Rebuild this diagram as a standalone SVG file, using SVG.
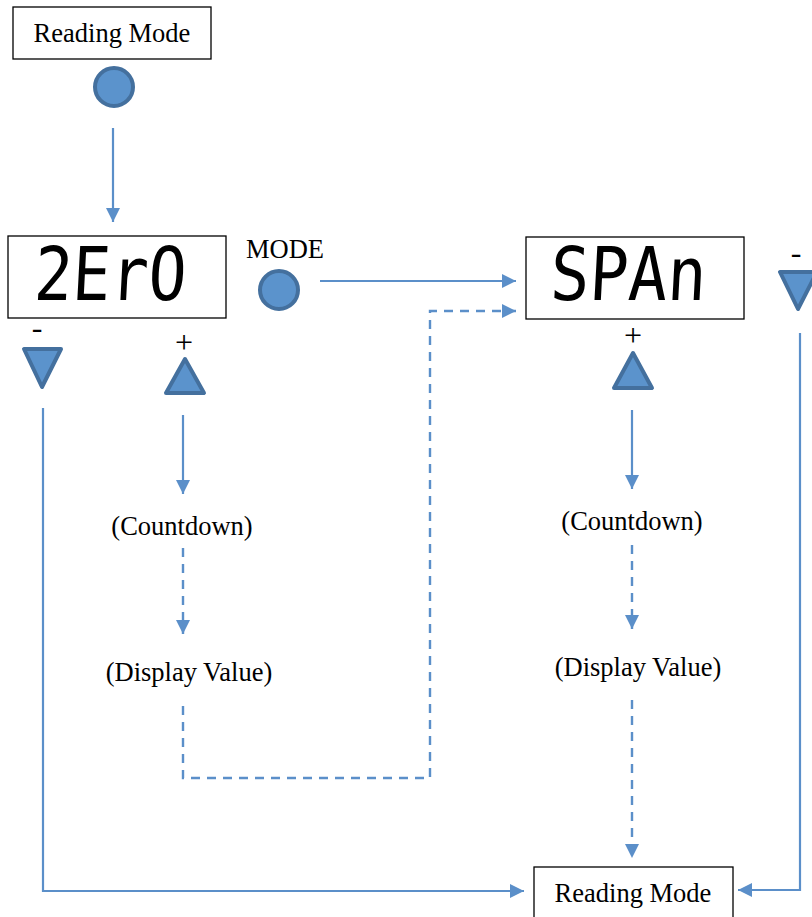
<svg xmlns="http://www.w3.org/2000/svg" width="812" height="917" viewBox="0 0 812 917">
  <style>
    .box { fill: #ffffff; stroke: #000000; stroke-width: 1.3; }
    .lbl { font-family: "Liberation Serif", "Times New Roman", serif; font-size: 26.5px; fill: #000000; text-anchor: middle; }
    .sign { font-family: "Liberation Serif", "Times New Roman", serif; font-size: 32px; fill: #000000; text-anchor: middle; }
    .seg { font-family: "DejaVu Sans Mono", monospace; font-size: 74px; fill: #000000; }
    .btn { fill: #5b93cc; stroke: #44709e; stroke-width: 4; stroke-linejoin: round; }
    .wire { fill: none; stroke: #5b8fc9; stroke-width: 2.2; }
    .dash { fill: none; stroke: #5b8fc9; stroke-width: 2.4; stroke-dasharray: 9 7; }
  </style>
  <defs>
    <marker id="head" markerUnits="userSpaceOnUse" markerWidth="16" markerHeight="16" refX="14" refY="7" orient="auto">
      <path d="M0,0 L14,7 L0,14 Z" fill="#5b8fc9"/>
    </marker>
  </defs>

  <rect width="812" height="917" fill="#ffffff"/>

  <!-- connectors -->
  <g id="connectors">
    <line class="wire" x1="113" y1="128" x2="113" y2="222" marker-end="url(#head)"/>
    <line class="wire" x1="320" y1="281" x2="516" y2="281" marker-end="url(#head)"/>
    <polyline class="dash" points="183,706 183,778 430,778 430,311 516,311" marker-end="url(#head)"/>
    <line class="wire" x1="183" y1="415" x2="183" y2="494" marker-end="url(#head)"/>
    <line class="dash" x1="183" y1="548" x2="183" y2="634" marker-end="url(#head)"/>
    <line class="wire" x1="632" y1="410" x2="632" y2="489" marker-end="url(#head)"/>
    <line class="dash" x1="632" y1="545" x2="632" y2="629" marker-end="url(#head)"/>
    <line class="dash" x1="632" y1="700" x2="632" y2="858" marker-end="url(#head)"/>
    <polyline class="wire" points="43,408 43,891 524,891" marker-end="url(#head)"/>
    <polyline class="wire" points="800,333 800,890 738,890" marker-end="url(#head)"/>
  </g>

  <!-- top reading mode -->
  <g id="reading-top">
    <rect class="box" x="13" y="7" width="198" height="52"/>
    <text class="lbl" x="112" y="42">Reading Mode</text>
  </g>
  <g id="mode-button-top">
    <circle class="btn" cx="114" cy="87" r="19"/>
  </g>

  <!-- zero display -->
  <g id="zero-display">
    <rect class="box" x="8" y="236" width="218" height="82"/>
    <text class="seg" x="33" y="300" textLength="152" lengthAdjust="spacingAndGlyphs" transform="skewX(-3) translate(16,0)">2ErO</text>
  </g>
  <g id="mode-button">
    <text class="lbl" x="285" y="258">MODE</text>
    <circle class="btn" cx="279" cy="290" r="19"/>
  </g>
  <g id="zero-minus">
    <text class="sign" x="37" y="338">-</text>
    <polygon class="btn" points="24,349 61,349 42,387"/>
  </g>
  <g id="zero-plus">
    <text class="sign" x="184" y="353">+</text>
    <polygon class="btn" points="185,359 204,393 166,393"/>
  </g>
  <g id="zero-countdown">
    <text class="lbl" x="182" y="535">(Countdown)</text>
  </g>
  <g id="zero-display-value">
    <text class="lbl" x="189" y="681">(Display Value)</text>
  </g>

  <!-- span display -->
  <g id="span-display">
    <rect class="box" x="526" y="237" width="218" height="82"/>
    <text class="seg" x="549" y="300" textLength="156" lengthAdjust="spacingAndGlyphs" transform="skewX(-3) translate(16,0)">SPAn</text>
  </g>
  <g id="span-plus">
    <text class="sign" x="633" y="346">+</text>
    <polygon class="btn" points="633,353 652,388 614,388"/>
  </g>
  <g id="span-minus">
    <text class="sign" x="796" y="263">-</text>
    <polygon class="btn" points="780,272 817,272 798,309"/>
  </g>
  <g id="span-countdown">
    <text class="lbl" x="632" y="530">(Countdown)</text>
  </g>
  <g id="span-display-value">
    <text class="lbl" x="638" y="676">(Display Value)</text>
  </g>

  <!-- bottom reading mode -->
  <g id="reading-bottom">
    <rect class="box" x="534" y="867" width="199" height="60"/>
    <text class="lbl" x="633" y="902">Reading Mode</text>
  </g>
</svg>
